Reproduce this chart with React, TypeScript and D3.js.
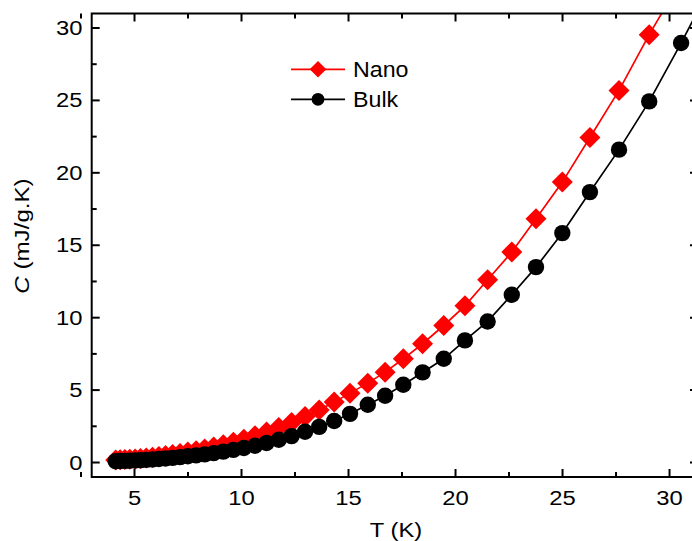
import React from "react";
import * as d3 from "d3";

// Temperatures (K) of the measurement points
const temps = [
  4.12, 4.33, 4.55, 4.78, 5.03, 5.28, 5.55, 5.84, 6.14, 6.45, 6.78, 7.13, 7.49, 7.88,
  8.28, 8.7, 9.15, 9.62, 10.11, 10.63, 11.17, 11.74, 12.34, 12.97, 13.63, 14.33, 15.07,
  15.9, 16.71, 17.56, 18.46, 19.45, 20.44, 21.5, 22.63, 23.76, 24.99, 26.28, 27.64,
  29.05, 30.54, 32.1,
];

// Specific heat C (mJ/g.K)
const nanoC = [
  0.17, 0.19, 0.21, 0.23, 0.25, 0.28, 0.32, 0.37, 0.42, 0.48, 0.55, 0.63, 0.72, 0.82,
  0.94, 1.07, 1.22, 1.4, 1.6, 1.84, 2.11, 2.42, 2.77, 3.17, 3.63, 4.17, 4.79, 5.48,
  6.24, 7.16, 8.2, 9.46, 10.82, 12.62, 14.53, 16.83, 19.36, 22.44, 25.69, 29.54, 33.3,
];
const bulkC = [
  0.09, 0.1, 0.11, 0.12, 0.14, 0.16, 0.18, 0.21, 0.24, 0.28, 0.32, 0.37, 0.43, 0.49,
  0.56, 0.65, 0.75, 0.87, 1.0, 1.16, 1.35, 1.57, 1.82, 2.12, 2.46, 2.87, 3.36, 3.99,
  4.61, 5.37, 6.22, 7.16, 8.43, 9.74, 11.58, 13.49, 15.84, 18.67, 21.6, 24.93, 28.96,
  33.4,
];

const xTicks = [5, 10, 15, 20, 25, 30];
const xMinor = [2.5, 7.5, 12.5, 17.5, 22.5, 27.5];
const yTicks = [0, 5, 10, 15, 20, 25, 30];
const yMinor = [2.5, 7.5, 12.5, 17.5, 22.5, 27.5];

const seriesNames = ["Nano", "Bulk"];
const seriesColors = ["#ff0000", "#000000"];

const W = 692;
const H = 541;
const L = 91.7;
const R = 698;
const T = 13.5;
const B = 477;
const FONT = "'Liberation Sans', Arial, Helvetica, sans-serif";

export default function App() {
  const x = d3.scaleLinear().domain([3, 31.33]).range([L, R]);
  const y = d3.scaleLinear().domain([-1, 31]).range([B, T]);

  const nanoPts: [number, number][] = nanoC.map((c, i) => [temps[i], c]);
  const bulkPts: [number, number][] = bulkC.map((c, i) => [temps[i], c]);

  const line = d3
    .line<[number, number]>()
    .x((d) => x(d[0]))
    .y((d) => y(d[1]));

  const diamond = (cx: number, cy: number, h: number) =>
    `M${cx},${cy - h}L${cx + h},${cy}L${cx},${cy + h}L${cx - h},${cy}Z`;

  const major = 8;
  const minor = 5;
  const tickScale = 1.22;

  return (
    <svg
      width={W}
      height={H}
      style={{ position: "absolute", left: 0, top: 0, background: "#fff" }}
      fontFamily={FONT}
    >
      <defs>
        <clipPath id="plot">
          <rect x={L} y={T} width={R - L} height={B - T} />
        </clipPath>
      </defs>

      {/* series */}
      <g clipPath="url(#plot)">
        <path d={line(nanoPts) || ""} fill="none" stroke={seriesColors[0]} strokeWidth={1.7} />
        {nanoPts.map((d, i) => (
          <path key={"n" + i} d={diamond(x(d[0]), y(d[1]), 10.5)} fill={seriesColors[0]} />
        ))}
        <path d={line(bulkPts) || ""} fill="none" stroke={seriesColors[1]} strokeWidth={1.7} />
        {bulkPts.map((d, i) => (
          <circle key={"b" + i} cx={x(d[0])} cy={y(d[1])} r={8.2} fill={seriesColors[1]} />
        ))}
      </g>

      {/* frame */}
      <rect x={L} y={T} width={R - L} height={B - T} fill="none" stroke="#000" strokeWidth={2} />

      {/* x ticks */}
      {xTicks.map((t) => (
        <g key={"xt" + t}>
          <line x1={x(t)} x2={x(t)} y1={B} y2={B - major} stroke="#000" strokeWidth={2} />
          <line x1={x(t)} x2={x(t)} y1={T} y2={T + major} stroke="#000" strokeWidth={2} />
          <text
            transform={`translate(${x(t)},505) scale(${tickScale},1)`}
            textAnchor="middle"
            fontSize={19.5}
            fill="#000"
          >
            {t}
          </text>
        </g>
      ))}
      {xMinor.map((t) => (
        <g key={"xm" + t}>
          <line x1={x(t)} x2={x(t)} y1={B} y2={B - minor} stroke="#000" strokeWidth={2} />
          <line x1={x(t)} x2={x(t)} y1={T} y2={T + minor} stroke="#000" strokeWidth={2} />
        </g>
      ))}

      {/* y ticks */}
      {yTicks.map((t) => (
        <g key={"yt" + t}>
          <line x1={L} x2={L + major} y1={y(t)} y2={y(t)} stroke="#000" strokeWidth={2} />
          <line x1={R} x2={R - major} y1={y(t)} y2={y(t)} stroke="#000" strokeWidth={2} />
          <text
            transform={`translate(82.5,${y(t) + 7}) scale(${tickScale},1)`}
            textAnchor="end"
            fontSize={19.5}
            fill="#000"
          >
            {t}
          </text>
        </g>
      ))}
      {yMinor.map((t) => (
        <g key={"ym" + t}>
          <line x1={L} x2={L + minor} y1={y(t)} y2={y(t)} stroke="#000" strokeWidth={2} />
          <line x1={R} x2={R - minor} y1={y(t)} y2={y(t)} stroke="#000" strokeWidth={2} />
        </g>
      ))}

      {/* axis titles */}
      <text
        transform="translate(396,537) scale(1.13,1)"
        textAnchor="middle"
        fontSize={21}
        fill="#000"
      >
        T (K)
      </text>
      <text
        transform="translate(28.5,236) rotate(-90) scale(1.15,1)"
        textAnchor="middle"
        fontSize={21}
        fill="#000"
      >
        <tspan fontStyle="italic">C</tspan>
        <tspan> (mJ/g.K)</tspan>
      </text>

      {/* legend */}
      <g>
        <line x1={291} x2={345} y1={69.3} y2={69.3} stroke={seriesColors[0]} strokeWidth={1.7} />
        <path d={diamond(318, 69.3, 8.3)} fill={seriesColors[0]} />
        <text
          transform="translate(353,76.5) scale(1.08,1)"
          fontSize={21.5}
          fill="#000"
        >
          {seriesNames[0]}
        </text>
        <line x1={291} x2={345} y1={99.3} y2={99.3} stroke={seriesColors[1]} strokeWidth={1.7} />
        <circle cx={318} cy={99.3} r={6.4} fill={seriesColors[1]} />
        <text
          transform="translate(353,106.5) scale(1.08,1)"
          fontSize={21.5}
          fill="#000"
        >
          {seriesNames[1]}
        </text>
      </g>
    </svg>
  );
}
